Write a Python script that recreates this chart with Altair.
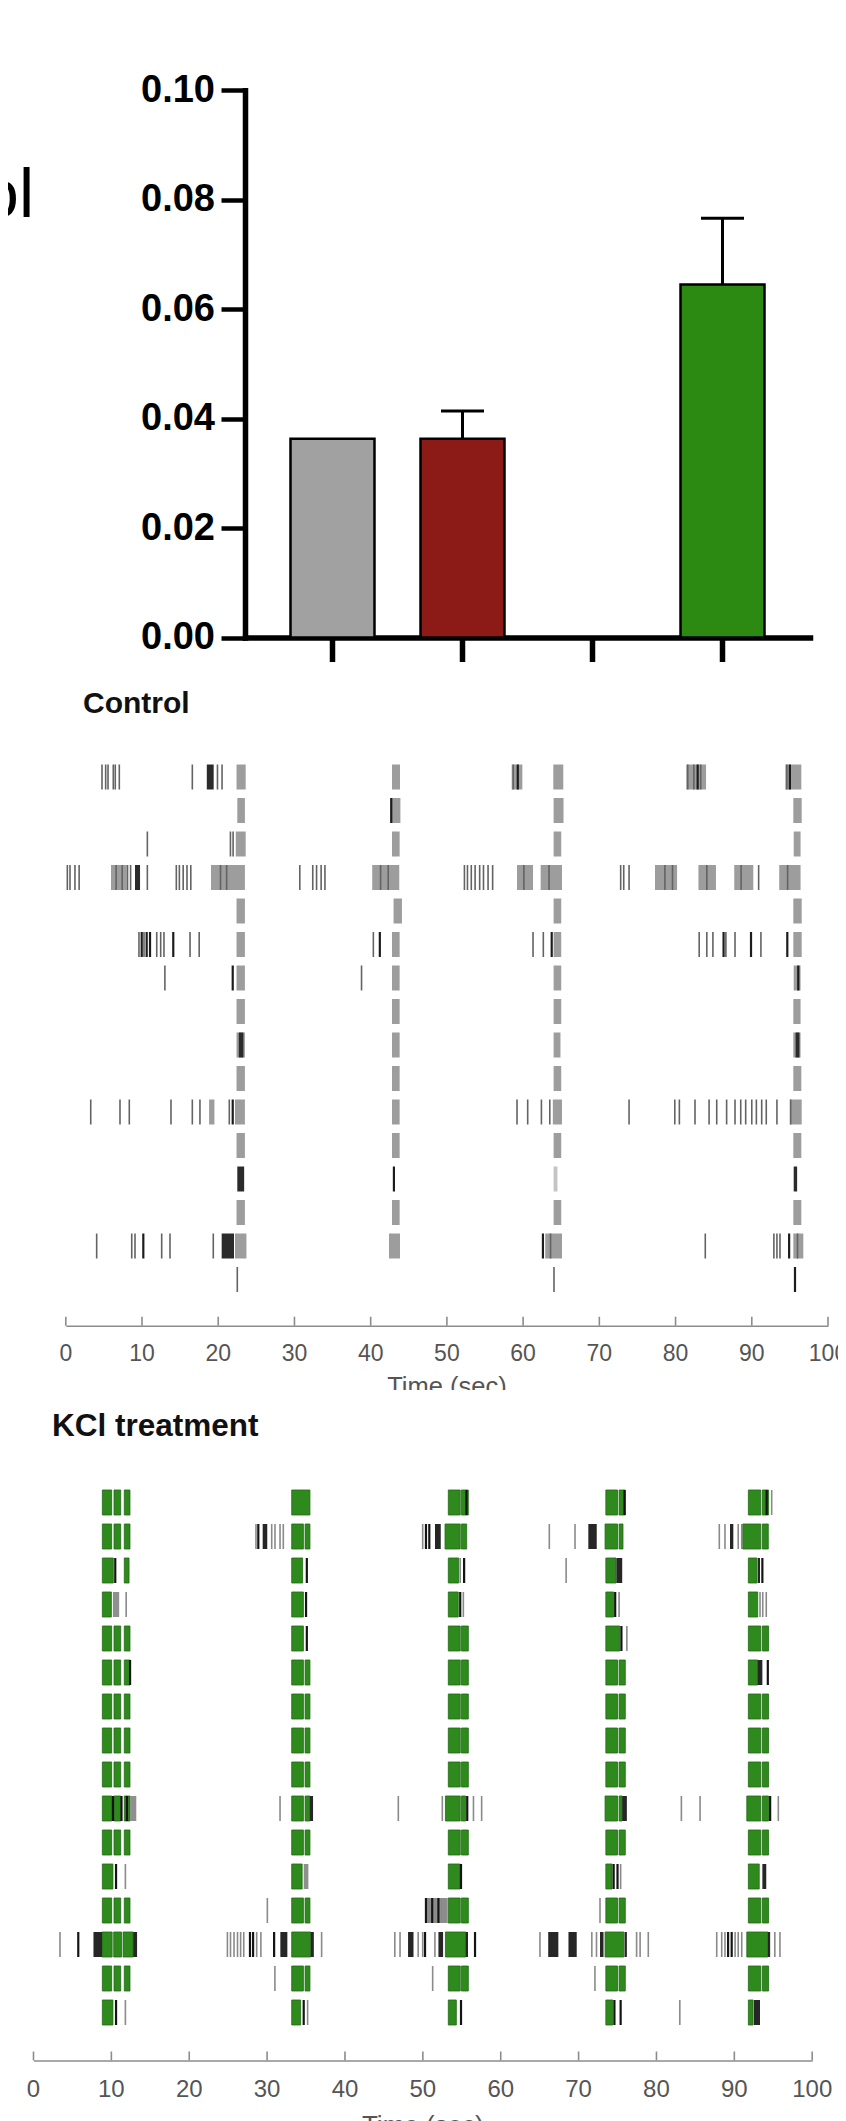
import altair as alt
import pandas as pd

# ---------------- top bar chart values ----------------
BAR_GROUPS = ["Group 1", "Group 2", "Group 3", "Group 4"]
BAR_MEAN = [0.0363, 0.0363, None, 0.0645]
BAR_UPPER = [None, 0.0414, None, 0.0766]
BAR_FILL = ["#a1a1a1", "#8c1a16", None, "#2c8a13"]
BAR_Y_TICKS = [0.0, 0.02, 0.04, 0.06, 0.08, 0.10]
LEGEND_LABEL = ["Control"]

# ---------------- raster values ----------------
TIME_TICKS = [0, 10, 20, 30, 40, 50, 60, 70, 80, 90, 100]
TIME_LABELS = ["0", "10", "20", "30", "40", "50", "60", "70", "80", "90", "100"]
PANEL_TITLES = ["Control", "KCl treatment"]
AXIS_TITLE = "Time (sec)"

# Control: gray burst blocks per row (start, end) in seconds
CTRL_BLOCKS = [
    [(22.4, 23.6), (42.8, 43.85), (58.5, 59.9), (63.96, 65.27), (81.4, 84.0), (94.4, 96.5)],
    [(22.5, 23.5), (42.6, 43.9), (64.0, 65.3), (95.45, 96.55)],
    [(22.3, 23.6), (42.8, 43.8), (64.0, 65.0), (95.5, 96.4)],
    [(5.93, 8.0), (19.05, 23.5), (40.2, 43.75), (59.2, 61.3), (62.3, 65.1), (77.3, 80.2),
     (83.0, 85.3), (87.7, 90.2), (93.6, 96.4)],
    [(22.4, 23.5), (43.0, 44.1), (64.0, 65.0), (95.45, 96.55)],
    [(22.4, 23.5), (42.8, 43.8), (64.0, 65.0), (95.45, 96.55)],
    [(22.4, 23.5), (42.8, 43.8), (64.0, 65.0), (95.5, 96.4)],
    [(22.4, 23.5), (42.8, 43.8), (64.0, 65.0), (95.45, 96.4)],
    [(22.4, 23.5), (42.8, 43.8), (64.0, 64.9), (95.45, 96.4)],
    [(22.4, 23.5), (42.8, 43.8), (64.0, 65.0), (95.45, 96.5)],
    [(18.8, 19.5), (22.2, 23.5), (42.8, 43.8), (63.9, 65.1), (95.0, 96.55)],
    [(22.4, 23.5), (42.8, 43.8), (64.0, 65.0), (95.45, 96.5)],
    [],
    [(22.4, 23.5), (42.8, 43.8), (64.0, 65.0), (95.45, 96.5)],
    [(22.2, 23.7), (42.4, 43.85), (62.9, 65.1), (95.45, 96.76)],
    [],
]
CTRL_DARK_BLOCKS = [
    [(18.5, 19.4)], [], [], [(9.08, 9.74)], [], [], [], [], [(22.7, 23.3), (95.75, 96.25)],
    [], [], [], [(22.5, 23.4), (95.5, 95.95)], [], [(20.45, 22.07)], [],
]
CTRL_LIGHT_BLOCKS = [[], [], [], [], [], [], [], [], [], [], [], [], [(64.0, 64.5)], [], [], []]
CTRL_SPIKES = [
    [4.75, 5.23, 5.54, 6.23, 6.49, 7.02, 16.6, 19.9, 20.5, 58.7, 81.6, 82.4, 83.3, 94.6],
    [],
    [10.7, 21.6, 21.95],
    [0.2, 0.55, 1.2, 1.75, 6.6, 7.4, 8.1, 8.5, 10.7, 14.5, 14.9, 15.4, 15.9, 16.4, 20.3, 21.1,
     30.7, 32.4, 32.9, 33.5, 34.0, 41.3, 42.3, 52.3, 52.7, 53.2, 53.7, 54.3, 54.8, 55.4, 56.0,
     60.1, 63.4, 72.8, 73.2, 73.9, 78.6, 79.6, 84.1, 88.6, 90.9, 94.7],
    [],
    [9.6, 10.26, 11.93, 12.45, 12.88, 16.3, 17.5, 40.35, 61.3, 62.65, 83.1, 84.1, 84.9, 86.6,
     87.8, 91.2],
    [13.0, 38.8],
    [], [], [],
    [3.27, 7.11, 8.33, 13.8, 16.6, 17.6, 21.45, 59.2, 60.6, 62.4, 63.5, 73.9, 79.9, 80.5, 82.55,
     84.4, 85.4, 86.7, 87.8, 88.55, 89.2, 90.0, 90.6, 91.3, 91.9, 93.3, 95.1],
    [], [], [],
    [4.05, 8.65, 9.08, 12.58, 13.67, 19.35, 63.6, 83.9, 92.9, 93.3, 93.7, 96.0],
    [22.5, 64.05],
]
CTRL_DARK_SPIKES = [
    [59.3, 82.9, 95.0], [42.7], [], [], [],
    [9.96, 10.61, 11.05, 14.1, 41.2, 63.75, 86.3, 89.9, 94.66],
    [21.9, 96.1], [], [], [], [21.9], [], [43.05], [], [10.17, 62.6, 94.9], [95.67],
]

# KCl: green burst segments, standard per burst column, with row overrides
KCL_GREEN_STD = {
    "A": [(8.84, 10.04), (10.34, 11.2), (11.66, 12.39)],
    "B": [(33.16, 34.66), (34.88, 35.5)],
    "C": [(53.27, 54.8), (54.95, 55.84)],
    "D": [(73.5, 75.0), (75.2, 76.0)],
    "E": [(91.8, 93.4), (93.6, 94.4)],
}
KCL_GREEN_OVERRIDE = {
    1: {"B": [(33.16, 35.5)]},
    2: {"C": [(52.85, 54.8), (54.95, 55.63)], "D": [(73.4, 75.0), (75.2, 75.7)],
        "E": [(91.07, 93.4), (93.6, 94.36)]},
    3: {"A": [(8.84, 10.25), (11.66, 12.27)], "B": [(33.16, 34.56)], "C": [(53.27, 54.6)],
        "D": [(73.5, 74.8)], "E": [(91.8, 92.9)]},
    4: {"A": [(8.84, 10.0)], "B": [(33.16, 34.66)], "C": [(53.27, 54.55)], "D": [(73.5, 74.5)],
        "E": [(91.8, 93.0)]},
    5: {"B": [(33.16, 34.66)], "D": [(73.5, 75.3)]},
    6: {"E": [(91.8, 93.0)]},
    10: {"C": [(52.9, 54.8), (54.95, 55.5)], "D": [(73.4, 75.0), (75.2, 75.6)],
         "E": [(91.6, 93.4), (93.6, 94.4)]},
    12: {"A": [(8.84, 10.2)], "B": [(33.16, 34.5)], "C": [(53.27, 54.8)], "D": [(73.5, 74.3)],
         "E": [(91.8, 93.2)]},
    14: {"A": [(8.8, 10.1), (10.3, 11.3), (11.5, 12.8)], "B": [(33.16, 35.6)], "C": [(52.9, 55.5)],
         "D": [(73.4, 75.8)], "E": [(91.6, 94.3)]},
    16: {"A": [(8.84, 10.2)], "B": [(33.16, 34.3)], "C": [(53.27, 54.3)], "D": [(73.5, 74.4)],
         "E": [(91.8, 92.4)]},
}
KCL_DARK_SPIKES = [
    [55.6, 75.9, 94.15], [28.87, 50.4, 50.83], [10.5, 35.1, 55.3, 93.6], [35.0, 54.8, 74.7],
    [35.1, 75.5], [12.4, 94.3], [], [], [], [10.2, 11.3, 12.0, 55.7, 94.6], [],
    [10.6, 54.9, 74.5, 75.0], [50.4, 51.2, 52.0],
    [5.75, 27.8, 28.2, 30.9, 50.28, 56.7, 89.2, 89.66], [], [10.6, 34.7, 54.9, 74.6, 75.4],
]
KCL_GRAY_SPIKES = [
    [94.8],
    [28.57, 30.59, 31.01, 31.66, 32.08, 49.98, 66.24, 69.54, 88.07, 88.8, 90.5, 90.95],
    [54.8, 68.4],
    [11.9, 55.2, 75.2, 93.3, 93.65, 94.1],
    [76.2], [], [], [], [],
    [31.66, 46.85, 52.5, 56.5, 57.55, 83.2, 85.6, 95.65],
    [],
    [11.8, 75.4],
    [30.03, 50.8, 51.6, 52.4, 52.8, 72.75],
    [3.4, 24.9, 25.3, 25.75, 26.2, 26.6, 27.0, 28.66, 29.2, 37.0, 46.4, 47.07, 49.4, 49.98,
     51.55, 65.04, 71.7, 72.3, 77.45, 77.9, 78.95, 87.74, 88.38, 88.8, 90.1, 90.5, 90.95,
     95.2, 95.86],
    [31.0, 51.26, 72.1],
    [11.8, 35.2, 83.0],
]
KCL_DARK_BLOCKS = [
    [], [(29.43, 30.02), (51.56, 52.3), (71.25, 72.33), (89.44, 89.87)],
    [(74.85, 75.6), (93.0, 93.3)], [], [], [(93.0, 93.6)], [], [], [],
    [(35.5, 35.9), (75.6, 76.2)], [], [(93.6, 94.1)], [],
    [(7.7, 8.8), (12.8, 13.3), (31.7, 32.6), (35.6, 36.0), (48.1, 48.8), (52.0, 52.6),
     (55.5, 55.8), (66.1, 67.4), (68.7, 69.76), (72.75, 73.2), (75.9, 76.2), (94.3, 94.6)],
    [], [(92.5, 93.3)],
]
KCL_GRAY_BLOCKS = [[], [], [], [(10.2, 11.0)], [], [], [], [], [], [(12.4, 13.2)], [],
                   [(34.7, 35.3)], [(50.3, 53.2)], [], [], []]

N_ROWS = 16
FONT = "Liberation Sans"
W = 830


def block_df(rows, half):
    recs = []
    for r, items in enumerate(rows, start=1):
        for a, b in items:
            recs.append({"t0": a, "t1": b, "r0": r - half, "r1": r + half})
    return pd.DataFrame(recs, columns=["t0", "t1", "r0", "r1"])


def spike_df(rows, half):
    recs = []
    for r, items in enumerate(rows, start=1):
        for t in items:
            recs.append({"t": t, "r0": r - half, "r1": r + half})
    return pd.DataFrame(recs, columns=["t", "r0", "r1"])


def kcl_green_rows():
    rows = []
    for r in range(1, N_ROWS + 1):
        segs = []
        for col in ["A", "B", "C", "D", "E"]:
            segs += KCL_GREEN_OVERRIDE.get(r, {}).get(col, KCL_GREEN_STD[col])
        rows.append(segs)
    return rows


# ---------------- panel 1: bar chart ----------------
H1 = 672
bar_df = pd.DataFrame({"group": BAR_GROUPS, "mean": BAR_MEAN, "upper": BAR_UPPER, "fill": BAR_FILL})
bar_df = bar_df.dropna(subset=["mean"])
err_df = bar_df.dropna(subset=["upper"])

xs_bar = alt.Scale(domain=BAR_GROUPS, range=[237, 802], paddingInner=0.354, paddingOuter=0.35)
ys_bar = alt.Scale(domain=[0, 0.10], range=[629.5, 82.2], nice=False, zero=False)

x_axis_bar = alt.Axis(labels=False, title=None, domainColor="black", domainWidth=5.5,
                      domainCap="square", tickColor="black", tickWidth=5.5, tickSize=24,
                      offset=-42.5, grid=False)
y_axis_bar = alt.Axis(values=BAR_Y_TICKS, format=".2f", title=None, offset=-237,
                      domainColor="black", domainWidth=5.5, domainCap="square",
                      tickColor="black", tickWidth=4.5, tickSize=24, labelFont=FONT,
                      labelFontWeight="bold", labelFontSize=38, labelColor="black",
                      labelPadding=6.5, grid=False)

bars = alt.Chart(bar_df).mark_bar(stroke="black", strokeWidth=2.5).encode(
    x=alt.X("group:N", scale=xs_bar, axis=x_axis_bar),
    y=alt.Y("mean:Q", scale=ys_bar, axis=y_axis_bar),
    color=alt.Color("fill:N", scale=None),
)
err_line = alt.Chart(err_df).mark_rule(color="black", strokeWidth=3).encode(
    x=alt.X("group:N", scale=xs_bar, axis=x_axis_bar),
    y=alt.Y("mean:Q", scale=ys_bar, axis=y_axis_bar),
    y2="upper:Q",
)
err_cap = alt.Chart(err_df).mark_tick(orient="horizontal", size=43, thickness=3, color="black",
                                      opacity=1).encode(
    x=alt.X("group:N", scale=xs_bar, axis=x_axis_bar),
    y=alt.Y("upper:Q", scale=ys_bar, axis=y_axis_bar),
)
legend_txt = alt.Chart(pd.DataFrame({"label": LEGEND_LABEL})).mark_text(
    align="right", baseline="alphabetic", font=FONT, fontSize=68, color="black", clip=True
).encode(text="label:N", x=alt.value(26), y=alt.value(209))

top = alt.layer(bars, err_line, err_cap, legend_txt).properties(width=W, height=H1)


# ---------------- raster panel builder ----------------
def raster_panel(height, x_range, y_range, axis_y, label_size, label_base, title_size,
                 title_base, title_text, title_x, panel_title_base, panel_title_size,
                 layers_spec):
    xs = alt.Scale(domain=[0, 100], range=x_range, nice=False, zero=False)
    ys = alt.Scale(domain=[1, N_ROWS], range=y_range, nice=False, zero=False)
    axis = alt.Axis(labels=False, ticks=False, title=None, offset=-(height - axis_y),
                    domainColor="#8c8c8c", domainWidth=1.6, grid=False)
    tick_layer = alt.Chart(pd.DataFrame({"t": TIME_TICKS})).mark_rule(
        color="#8c8c8c", strokeWidth=1.6
    ).encode(x=alt.X("t:Q", scale=xs, axis=axis), y=alt.value(axis_y), y2=alt.value(axis_y - 9))
    layers = [tick_layer]
    for kind, df, style in layers_spec:
        if len(df) == 0:
            continue
        if kind == "rect":
            layers.append(alt.Chart(df).mark_rect(**style).encode(
                x=alt.X("t0:Q", scale=xs, axis=axis), x2="t1:Q",
                y=alt.Y("r0:Q", scale=ys, axis=None), y2="r1:Q"))
        else:
            layers.append(alt.Chart(df).mark_rule(**style).encode(
                x=alt.X("t:Q", scale=xs, axis=axis),
                y=alt.Y("r0:Q", scale=ys, axis=None), y2="r1:Q"))
    # tick labels (clipped at the panel edge like the cropped original)
    lab_layer = alt.Chart(pd.DataFrame({"t": TIME_TICKS, "lab": TIME_LABELS})).mark_text(
        align="center", baseline="alphabetic", font=FONT, fontSize=label_size,
        color="#555555", clip=True
    ).encode(x=alt.X("t:Q", scale=xs, axis=axis), y=alt.value(label_base), text="lab:N")
    # axis title (cut by the panel's lower edge)
    ttl_layer = alt.Chart(pd.DataFrame({"t": [50], "lab": [AXIS_TITLE]})).mark_text(
        align="center", baseline="alphabetic", font=FONT, fontSize=title_size,
        color="#555555", clip=True
    ).encode(x=alt.X("t:Q", scale=xs, axis=axis), y=alt.value(title_base), text="lab:N")
    title_layer = alt.Chart(pd.DataFrame({"title": [title_text]})).mark_text(
        align="left", baseline="alphabetic", font=FONT, fontSize=panel_title_size,
        fontWeight="bold", color="#111111"
    ).encode(text="title:N", x=alt.value(title_x), y=alt.value(panel_title_base))
    layers += [lab_layer, ttl_layer, title_layer]
    return alt.layer(*layers).properties(width=W, height=height)


# ---------------- panel 2: control raster (page y 680 .. 1390) ----------------
H2 = 710
CH = 0.373
ctrl = raster_panel(
    H2, [57.8, 820.0], [97.0, 599.5], 645.7, 23, 681, 25.5, 715.3,
    PANEL_TITLES[0], 75, 32.5, 30,
    [
        ("rect", block_df(CTRL_BLOCKS, CH), {"color": "#9d9d9d"}),
        ("rect", block_df(CTRL_LIGHT_BLOCKS, CH), {"color": "#c4c4c4"}),
        ("rule", spike_df(CTRL_SPIKES, CH), {"color": "#636363", "strokeWidth": 1.6}),
        ("rect", block_df(CTRL_DARK_BLOCKS, CH), {"color": "#2b2b2b"}),
        ("rule", spike_df(CTRL_DARK_SPIKES, CH), {"color": "#1c1c1c", "strokeWidth": 2.2}),
    ],
)

# ---------------- panel 3: KCl raster (page y 1390 .. 2121) ----------------
H3 = 731
KH = 0.368
kcl = raster_panel(
    H3, [25.5, 804.2], [112.5, 622.5], 670.5, 24, 707, 26, 743.6,
    PANEL_TITLES[1], 44, 46, 31.5,
    [
        ("rect", block_df(kcl_green_rows(), KH),
         {"color": "#2f8a1d", "stroke": "#206a13", "strokeWidth": 0.8}),
        ("rect", block_df(KCL_GRAY_BLOCKS, KH), {"color": "#8f8f8f"}),
        ("rule", spike_df(KCL_GRAY_SPIKES, KH), {"color": "#8a8a8a", "strokeWidth": 1.6}),
        ("rect", block_df(KCL_DARK_BLOCKS, KH), {"color": "#262626"}),
        ("rule", spike_df(KCL_DARK_SPIKES, KH), {"color": "#141414", "strokeWidth": 2.2}),
    ],
)

chart = alt.vconcat(top, ctrl, kcl, spacing=0).properties(padding=0).configure_view(stroke=None)
chart.save("out.html", embed_options={"renderer": "svg", "actions": False})
